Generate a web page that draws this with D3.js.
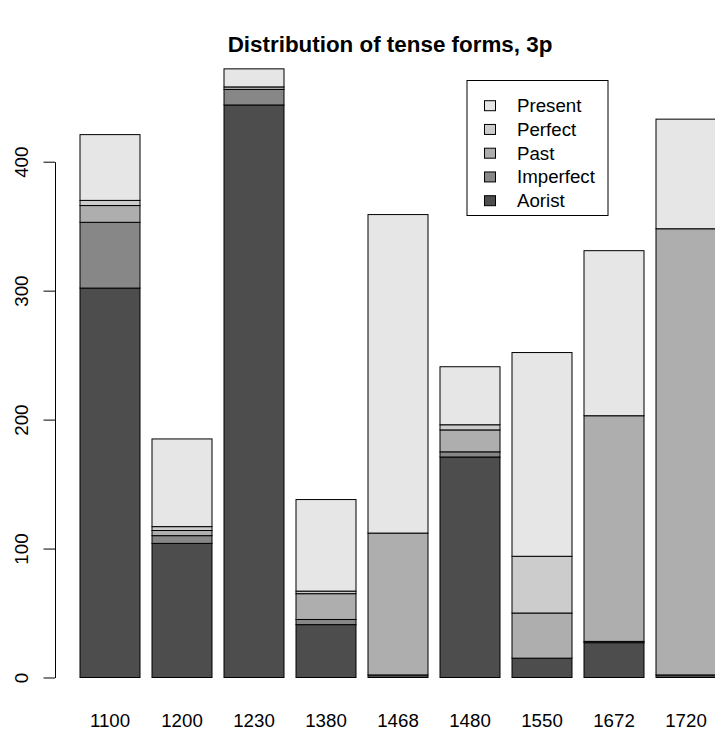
<!DOCTYPE html>
<html>
<head>
<meta charset="utf-8">
<script src="https://cdn.jsdelivr.net/npm/d3@7"></script>
<style>
  html, body { margin: 0; padding: 0; background: #fff; }
  svg { display: block; font-family: "Liberation Sans", Arial, Helvetica, sans-serif; }
</style>
</head>
<body>
<svg id="chart" width="715" height="733"></svg>
<script>
// Periods on the x axis
const years = ["1100", "1200", "1230", "1380", "1468", "1480", "1550", "1672", "1720"];

// Counts per tense form, one value per period (stacked bottom to top)
const aorist    = [302, 104, 444, 41,   2, 171,  15,  27,   2];
const imperfect = [ 51,   6,  12,  4,   0,   4,   0,   1,   0];
const past      = [ 13,   4,   2, 20, 110,  17,  35, 175, 346];
const perfect   = [  4,   3,   0,  2,   0,   4,  44,   0,   0];
const present   = [ 51,  68,  14, 71, 247,  45, 158, 128,  85];

// Stacking order (bottom first) and grey fills
const tenses = ["Aorist", "Imperfect", "Past", "Perfect", "Present"];
const fills  = ["#4D4D4D", "#878787", "#AEAEAE", "#CCCCCC", "#E6E6E6"];
const yTicks = [0, 100, 200, 300, 400];

const series = { Aorist: aorist, Imperfect: imperfect, Past: past, Perfect: perfect, Present: present };
const rows = years.map((yr, i) => {
  const r = { year: yr };
  tenses.forEach(t => { r[t] = series[t][i]; });
  return r;
});

const svg = d3.select("#chart");

const x = d3.scaleBand()
  .domain(years)
  .range([80, 716])
  .paddingInner(1 / 6)
  .paddingOuter(0);

const y = d3.scaleLinear()
  .domain([0, 400])
  .range([677.5, 161.7]);

const color = d3.scaleOrdinal().domain(tenses).range(fills);

const stacked = d3.stack().keys(tenses)(rows);

// Stacked bars
const layers = svg.append("g")
  .selectAll("g")
  .data(stacked)
  .join("g")
  .attr("fill", d => color(d.key));

layers.selectAll("rect")
  .data(d => d)
  .join("rect")
  .attr("x", d => x(d.data.year))
  .attr("width", x.bandwidth())
  .attr("y", d => y(d[1]))
  .attr("height", d => y(d[0]) - y(d[1]))
  .attr("stroke", "#000")
  .attr("stroke-width", 1);

// Y axis (left), labels rotated
const yAxis = svg.append("g")
  .attr("transform", "translate(55,0)")
  .call(d3.axisLeft(y).tickValues(yTicks).tickSize(11.5).tickPadding(0).tickSizeOuter(0));
yAxis.select(".domain").attr("stroke", "#000").attr("stroke-width", 1);
yAxis.selectAll(".tick line").attr("stroke", "#000");
yAxis.selectAll(".tick text")
  .attr("x", null).attr("dy", null)
  .attr("text-anchor", "middle")
  .attr("font-size", 18.7)
  .attr("fill", "#000")
  .attr("font-family", "Liberation Sans, Arial, sans-serif")
  .attr("transform", "translate(-27,0) rotate(-90)");

// Category labels under the bars
const xAxis = svg.append("g")
  .attr("transform", "translate(0,727)")
  .call(d3.axisBottom(x).tickSize(0).tickPadding(0));
xAxis.select(".domain").remove();
xAxis.selectAll(".tick text")
  .attr("y", 0).attr("dy", null)
  .attr("font-size", 18.7)
  .attr("fill", "#000")
  .attr("font-family", "Liberation Sans, Arial, sans-serif");

// Title
svg.append("text")
  .attr("x", 390)
  .attr("y", 52)
  .attr("text-anchor", "middle")
  .attr("font-size", 22.4)
  .attr("font-weight", "bold")
  .text("Distribution of tense forms, 3p");

// Legend (listed top to bottom: Present ... Aorist)
const legend = svg.append("g");
legend.append("rect")
  .attr("x", 467).attr("y", 80.5)
  .attr("width", 141).attr("height", 135)
  .attr("fill", "#fff").attr("stroke", "#000");

const legendItems = tenses.slice().reverse();
const ly = d3.scalePoint().domain(legendItems).range([105.7, 200.7]);

legend.selectAll("rect.sw")
  .data(legendItems)
  .join("rect")
  .attr("class", "sw")
  .attr("x", 484.5)
  .attr("y", d => ly(d) - 5)
  .attr("width", 11)
  .attr("height", 10)
  .attr("fill", d => color(d))
  .attr("stroke", "#000");

legend.selectAll("text")
  .data(legendItems)
  .join("text")
  .attr("x", 517)
  .attr("y", d => ly(d) + 6.5)
  .attr("font-size", 18.7)
  .text(d => d);
</script>
</body>
</html>
